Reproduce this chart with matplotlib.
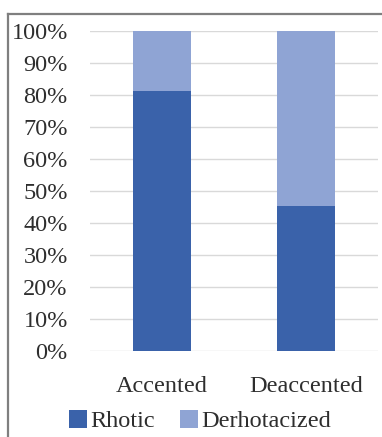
import matplotlib.pyplot as plt
from matplotlib.lines import Line2D

categories = ['Accented', 'Deaccented']
rhotic = [81.25, 45.4]
derhotacized = [18.75, 54.6]
yticks = [0, 10, 20, 30, 40, 50, 60, 70, 80, 90, 100]

dark = '#3A62AA'
light = '#8FA4D4'
txt = '#2e2e2e'
fs = 17.5

plt.rcParams['font.family'] = ['Liberation Serif', 'DejaVu Serif']

W, H = 382, 437
fig = plt.figure(figsize=(W / 100, H / 100), dpi=100)
ax = fig.add_axes([90 / W, (H - 351) / H, 288 / W, 320 / H])

x = range(len(categories))
ax.bar(x, rhotic, width=0.4, color=dark, label='Rhotic', zorder=2)
ax.bar(x, derhotacized, width=0.4, bottom=rhotic, color=light,
       label='Derhotacized', zorder=2)

ax.set_xlim(-0.5, 1.5)
ax.set_ylim(0, 100)
ax.set_yticks(yticks)
ax.set_yticklabels(['%d%%' % v for v in yticks], fontsize=fs, color=txt)
ax.set_xticks(list(x))
ax.set_xticklabels(categories, fontsize=fs, color=txt)
ax.tick_params(axis='y', length=0, pad=16)
ax.tick_params(axis='x', length=0, pad=18)
ax.grid(axis='y', color='#d9d9d9', linewidth=1, zorder=0)
for s in ax.spines.values():
    s.set_visible(False)

fig.legend(loc='center', bbox_to_anchor=(200 / W, (H - 421) / H), ncol=2,
           frameon=False, prop={'family': 'Liberation Serif', 'size': fs},
           handlelength=0.75, handleheight=0.75, handletextpad=0.15,
           columnspacing=1.0, labelcolor=txt)

# grey frame on top and left
fig.add_artist(Line2D([8 / W, 1], [(H - 14) / H, (H - 14) / H],
                      transform=fig.transFigure, color='#7f7f7f', lw=1.6))
fig.add_artist(Line2D([8 / W, 8 / W], [0, (H - 14) / H],
                      transform=fig.transFigure, color='#7f7f7f', lw=1.6))

fig.savefig('out.png', dpi=100)
